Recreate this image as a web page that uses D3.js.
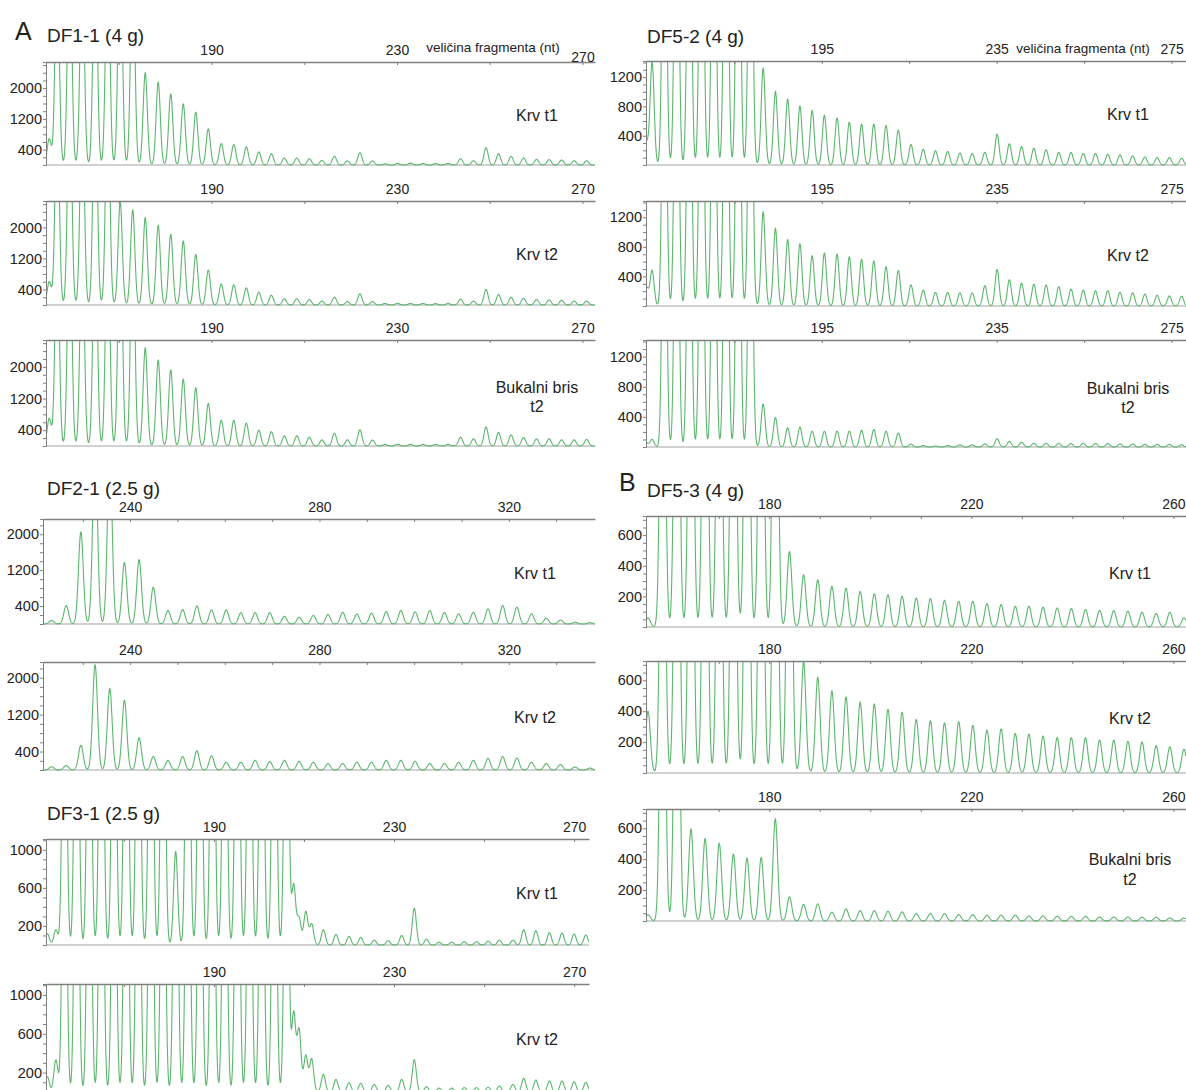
<!DOCTYPE html>
<html>
<head>
<meta charset="utf-8">
<script src="https://cdn.jsdelivr.net/npm/d3@7"></script>
<style>
  body { margin: 0; background: #fff; }
  svg { background: #fff; display: block; }
  text { font-family: "Liberation Sans", Arial, sans-serif; fill: #222; }
</style>
</head>
<body>
<script>
var width = 1186,
    height = 1090;

// peak positions (fragment size, nt) per marker
var df11Pos = [155.0, 156.7, 159.4, 162.1, 164.9, 167.6, 170.3, 173.0, 175.7, 178.5, 181.2, 183.9, 186.6, 189.3, 192.1,
  194.8, 197.5, 200.2, 202.9, 205.7, 208.4, 211.1, 213.8, 216.5, 219.3, 222.0, 224.7, 227.4, 230.1, 232.9, 235.6,
  238.3, 241.0, 243.7, 246.5, 249.2, 251.9, 254.6, 257.3, 260.1, 262.8, 265.5, 268.2, 270.9];
var df21Pos = [223.4, 226.5, 229.6, 232.6, 235.7, 238.8, 241.9, 244.9, 248.0, 251.1, 254.1, 257.2, 260.3, 263.4, 266.4,
  269.5, 272.6, 275.7, 278.7, 281.8, 284.9, 287.9, 291.0, 294.1, 297.2, 300.2, 303.3, 306.4, 309.4, 312.5, 315.6,
  318.7, 321.7, 324.8, 327.9, 330.9, 334.0, 337.1];
var df31Pos = [153.0, 154.9, 156.8, 159.5, 162.3, 165.0, 167.8, 170.5, 173.2, 176.0, 178.7, 181.5, 184.2, 186.9, 189.7,
  192.4, 195.2, 197.9, 200.6, 203.4, 206.1, 207.7, 208.9, 210.4, 211.7, 214.3, 217.1, 220.0, 222.6, 225.6, 228.7,
  231.7, 234.5, 237.2, 240.0, 242.8, 245.6, 248.3, 250.9, 253.4, 256.4, 258.8, 261.5, 264.5, 267.3, 270.0, 272.6];
var df52Pos = [154.9, 156.2, 159.0, 161.8, 164.7, 167.5, 170.3, 173.1, 175.9, 178.7, 181.6, 184.4, 187.2, 190.0, 192.8,
  195.6, 198.5, 201.3, 204.1, 206.9, 209.7, 212.5, 215.4, 218.2, 221.0, 223.8, 226.6, 229.4, 232.3, 235.1, 237.9,
  240.7, 243.5, 246.3, 249.2, 252.0, 254.8, 257.6, 260.4, 263.2, 266.1, 268.9, 271.7, 274.5, 277.3];
var df53Pos = [156.0, 158.9, 161.7, 164.5, 167.3, 170.1, 172.9, 175.6, 178.4, 181.2, 184.0, 186.8, 189.6, 192.4, 195.2,
  198.0, 200.8, 203.5, 206.3, 209.1, 211.9, 214.7, 217.5, 220.3, 223.1, 225.9, 228.7, 231.4, 234.2, 237.0, 239.8,
  242.6, 245.4, 248.2, 251.0, 253.8, 256.6, 259.3, 262.1];

// peak heights (RFU); values above the axis top are off-scale peaks
var df11Krv1 = [680, 5200, 6000, 5500, 6000, 5800, 6200, 5600, 2400, 2155, 1850, 1590, 1375, 940, 555, 530, 470, 340,
  295, 180, 180, 165, 120, 225, 105, 320, 105, 30, 40, 50, 40, 40, 40, 165, 110, 450, 295, 225, 180, 145, 140, 130, 110, 110];
var df11Krv2 = [600, 5000, 5800, 5400, 6000, 5600, 2650, 2450, 2250, 2050, 1820, 1650, 1300, 900, 540, 520, 440, 330,
  250, 160, 160, 140, 100, 200, 90, 290, 90, 40, 45, 40, 40, 35, 40, 150, 100, 400, 270, 200, 170, 140, 130, 120, 100, 100];
var df11Bris = [700, 5200, 6000, 5500, 6000, 5800, 6200, 5600, 2480, 2170, 1920, 1690, 1470, 1075, 650, 650, 580, 400,
  360, 255, 255, 220, 155, 320, 155, 410, 150, 40, 45, 40, 40, 40, 40, 220, 180, 480, 345, 280, 215, 180, 180, 155, 155, 165];

var df21Krv1 = [80, 410, 2050, 4000, 3800, 1370, 1435, 820, 300, 320, 400, 315, 315, 250, 250, 250, 170, 150, 190, 210,
  260, 225, 240, 275, 300, 270, 300, 255, 225, 260, 335, 410, 375, 225, 130, 90, 40, 30];
var df21Krv2 = [70, 97, 536, 2280, 1767, 1510, 696, 292, 209, 292, 417, 306, 167, 167, 209, 181, 209, 188, 167, 139,
  139, 167, 167, 209, 209, 188, 139, 139, 167, 209, 250, 292, 257, 167, 139, 118, 63, 42];

var df31Krv1 = [120, 160, 4000, 4500, 4200, 4800, 4400, 4600, 4300, 4700, 4400, 980, 4500, 4200, 4600, 4400, 4800, 4300,
  4500, 4600, 4200, 630, 280, 350, 220, 160, 110, 90, 80, 50, 45, 100, 385, 60, 30, 30, 35, 35, 40, 50, 50, 160, 150,
  130, 125, 115, 105];
var df31Krv2 = [158, 330, 4200, 4500, 4300, 4800, 4400, 4600, 4300, 4700, 4400, 4500, 4500, 4200, 4600, 4400, 4800, 4300,
  4500, 4600, 4200, 810, 635, 374, 339, 183, 130, 96, 89, 78, 68, 130, 332, 54, 40, 40, 45, 45, 50, 61, 78, 141, 123,
  113, 113, 106, 100];

var df52Krv1 = [300, 1400, 5000, 5500, 5200, 5800, 5400, 6000, 5600, 5300, 1322, 1003, 899, 805, 745, 679, 641, 585, 557,
  557, 538, 476, 279, 214, 195, 185, 162, 157, 172, 420, 289, 251, 228, 209, 172, 172, 157, 157, 148, 138, 125, 110, 101, 101, 91];
var df52Krv2 = [250, 480, 5000, 5500, 5200, 5800, 5400, 6000, 5600, 5300, 1272, 1050, 897, 841, 679, 716, 702, 665, 632,
  609, 530, 479, 285, 215, 183, 183, 178, 178, 275, 493, 354, 308, 294, 285, 261, 229, 215, 206, 206, 183, 178, 160, 145, 136, 132];
var df52Bris = [50, 100, 5000, 5500, 5200, 5800, 5400, 6000, 5600, 5300, 570, 390, 254, 263, 209, 209, 209, 209, 222,
  231, 209, 186, 37, 19, 14, 19, 28, 28, 41, 109, 73, 64, 50, 50, 50, 45, 50, 45, 45, 40, 40, 35, 35, 35, 30];

var df53Krv1 = [60, 3000, 3300, 3100, 3400, 3200, 3500, 3300, 3100, 3400, 492, 341, 308, 265, 254, 232, 217, 211, 200,
  189, 185, 174, 168, 168, 152, 146, 135, 135, 129, 124, 120, 114, 109, 107, 103, 96, 88, 96, 60];
var df53Krv2 = [400, 3000, 3300, 3100, 3400, 3200, 3500, 3300, 3100, 3400, 3200, 722, 619, 531, 492, 458, 446, 412, 393,
  347, 338, 324, 331, 308, 278, 285, 255, 251, 239, 228, 228, 228, 212, 212, 205, 200, 177, 170, 154];
var df53Bris = [40, 3000, 3200, 596, 535, 504, 433, 407, 411, 661, 157, 107, 111, 57, 78, 67, 67, 63, 59, 48, 48, 48,
  41, 41, 37, 37, 37, 33, 33, 30, 30, 30, 26, 26, 26, 24, 24, 20, 20];

// axis ticks and labels
var xTicks11 = [170, 190, 210, 230, 250, 270], xLabels11 = [190, 230, 270];
var xTicks21 = [230, 240, 250, 260, 270, 280, 290, 300, 310, 320, 330], xLabels21 = [240, 280, 320];
var xTicks52 = [175, 195, 215, 235, 255, 275], xLabels52 = [195, 235, 275];
var xTicks53 = [170, 180, 190, 200, 210, 220, 230, 240, 250, 260], xLabels53 = [180, 220, 260];
var yLabels11 = [400, 1200, 2000];
var yLabels31 = [200, 600, 1000];
var yLabels52 = [400, 800, 1200];
var yLabels53 = [200, 400, 600];

var krv1 = ["Krv t1"], krv2 = ["Krv t2"], bris = ["Bukalni bris", "t2"];

var groups = [
  {id: "df11", title: "DF1-1 (4 g)", letter: "A", lx: 15, ly: 40, tx: 47, ty: 42,
   pos: df11Pos, sigma: 0.45, dom: [154.3, 272.7], x0: 46, x1: 595,
   yMax: 2680, yStep: 200, yLabels: yLabels11, xTicks: xTicks11, xLabels: xLabels11,
   labelX: 537, note: {x: 493, y: 52}, dropLast: 7,
   panels: [{top: 62, bottom: 165, h: df11Krv1, label: krv1},
            {top: 201, bottom: 305, h: df11Krv2, label: krv2},
            {top: 340, bottom: 446, h: df11Bris, label: bris}]},
  {id: "df21", title: "DF2-1 (2.5 g)", tx: 47, ty: 495,
   pos: df21Pos, sigma: 0.5, dom: [221.6, 338.2], x0: 43, x1: 595,
   yMax: 2340, yStep: 200, yLabels: yLabels11, xTicks: xTicks21, xLabels: xLabels21,
   labelX: 535,
   panels: [{top: 519, bottom: 624, h: df21Krv1, label: krv1},
            {top: 662, bottom: 770, h: df21Krv2, label: krv2}]},
  {id: "df31", title: "DF3-1 (2.5 g)", tx: 47, ty: 820,
   pos: df31Pos, sigma: 0.45, dom: [152.7, 273.3], x0: 46, x1: 589,
   yMax: 1113, yStep: 100, yLabels: yLabels31, xTicks: xTicks11, xLabels: xLabels11,
   labelX: 537,
   panels: [{top: 839, bottom: 945, h: df31Krv1, label: krv1},
            {top: 984, bottom: 1092, h: df31Krv2, label: krv2}]},
  {id: "df52", title: "DF5-2 (4 g)", tx: 647, ty: 43,
   pos: df52Pos, sigma: 0.46, dom: [154.8, 278.3], x0: 646, x1: 1186,
   yMax: 1420, yStep: 100, yLabels: yLabels52, xTicks: xTicks52, xLabels: xLabels52,
   labelX: 1128, note: {x: 1083, y: 53},
   panels: [{top: 61, bottom: 165, h: df52Krv1, label: krv1},
            {top: 201, bottom: 306, h: df52Krv2, label: krv2},
            {top: 340, bottom: 447, h: df52Bris, label: bris}]},
  {id: "df53", title: "DF5-3 (4 g)", letter: "B", lx: 619, ly: 491, tx: 647, ty: 497,
   pos: df53Pos, sigma: 0.46, dom: [155.6, 262.5], x0: 646, x1: 1186,
   yMax: 725, yStep: 50, yLabels: yLabels53, xTicks: xTicks53, xLabels: xLabels53,
   labelX: 1130,
   panels: [{top: 516, bottom: 627, h: df53Krv1, label: krv1},
            {top: 661, bottom: 773, h: df53Krv2, label: krv2},
            {top: 809, bottom: 921, h: df53Bris, label: bris}]}
];

// sum of peak shapes sampled along the size axis
function trace(pos, h, sigma, dom) {
  var pts = [];
  for (var s = dom[0]; s <= dom[1] + 0.001; s += 0.04) {
    var v = 0;
    for (var i = 0; i < pos.length; i++) {
      var d = (s - pos[i]) / sigma;
      if (d > -7 && d < 7) v += h[i] * Math.exp(-d * d / 2);
    }
    pts.push([s, v]);
  }
  return pts;
}

var svg = d3.select("body").append("svg")
    .attr("width", width)
    .attr("height", height);

groups.forEach(function(g) {
  var x = d3.scaleLinear().domain(g.dom).range([g.x0, g.x1]);
  var gg = svg.append("g").attr("class", g.id);

  if (g.letter) {
    gg.append("text").attr("x", g.lx).attr("y", g.ly)
      .style("font-size", "25px").text(g.letter);
  }
  gg.append("text").attr("x", g.tx).attr("y", g.ty)
    .style("font-size", "19px").text(g.title);

  g.panels.forEach(function(p, i) {
    var y = d3.scaleLinear().domain([0, g.yMax]).range([p.bottom, p.top]);
    var pg = gg.append("g");
    var clipId = g.id + "-clip-" + i;

    pg.append("line")
      .attr("x1", g.x0).attr("x2", g.x1)
      .attr("y1", p.bottom).attr("y2", p.bottom)
      .attr("stroke", "#a3a3a3").attr("stroke-width", 1.2);

    pg.append("clipPath").attr("id", clipId)
      .append("rect")
      .attr("x", g.x0).attr("y", p.top)
      .attr("width", g.x1 - g.x0).attr("height", p.bottom - p.top + 2);

    var line = d3.line()
        .x(function(d) { return x(d[0]); })
        .y(function(d) { return y(d[1]); });

    pg.append("path")
      .datum(trace(g.pos, p.h, g.sigma, g.dom))
      .attr("clip-path", "url(#" + clipId + ")")
      .attr("fill", "none")
      .attr("stroke", "#5cb66e")
      .attr("stroke-width", 1.1)
      .attr("d", line);

    // size axis on top
    var xa = pg.append("g")
      .attr("transform", "translate(0," + p.top + ")")
      .attr("color", "#7f7f7f")
      .style("font-size", "14px")
      .call(d3.axisTop(x)
        .tickValues(g.xTicks)
        .tickSizeInner(-3)
        .tickSizeOuter(0)
        .tickPadding(7)
        .tickFormat(function(d) { return g.xLabels.indexOf(d) >= 0 ? d : ""; }));
    xa.select(".domain").attr("stroke-width", 1.3);
    if (i === 0 && g.dropLast) {
      xa.selectAll("text")
        .filter(function(d) { return d === g.xLabels[g.xLabels.length - 1]; })
        .attr("y", -7 + g.dropLast);
    }

    // intensity axis
    var yTicks = d3.range(g.yStep, g.yMax, g.yStep);
    pg.append("g")
      .attr("transform", "translate(" + g.x0 + ",0)")
      .attr("color", "#7f7f7f")
      .style("font-size", "14.5px")
      .call(d3.axisLeft(y)
        .tickValues(yTicks)
        .tickSize(3)
        .tickPadding(1)
        .tickFormat(function(d) { return g.yLabels.indexOf(d) >= 0 ? d : ""; }));

    // sample label
    var h = p.bottom - p.top;
    var centers = p.label.length === 1 ? [0.515] : [0.45, 0.63];
    p.label.forEach(function(t, j) {
      pg.append("text")
        .attr("x", g.labelX)
        .attr("y", p.top + centers[j] * h + 5.5)
        .attr("text-anchor", "middle")
        .style("font-size", "16px")
        .text(t);
    });

    if (i === 0 && g.note) {
      pg.append("text")
        .attr("x", g.note.x).attr("y", g.note.y)
        .attr("text-anchor", "middle")
        .style("font-size", "13.5px")
        .text("veličina fragmenta (nt)");
    }
  });
});
</script>
</body>
</html>
